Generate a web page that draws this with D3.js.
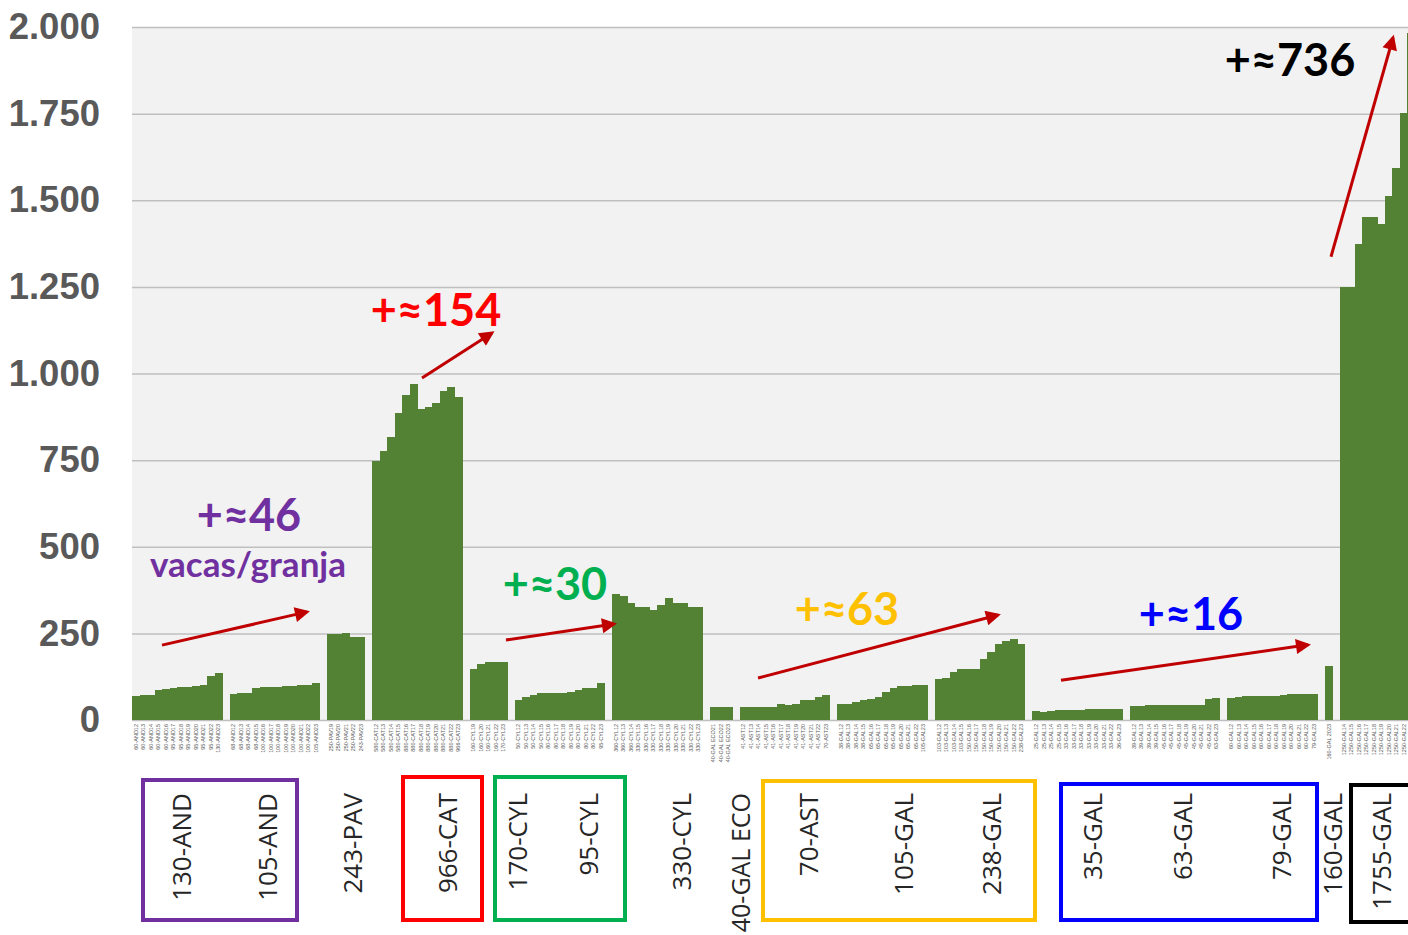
<!DOCTYPE html>
<html>
<head>
<meta charset="utf-8">
<script src="https://cdnjs.cloudflare.com/ajax/libs/d3/7.8.5/d3.min.js"></script>
<style>
    body { margin: 0; background: #ffffff; overflow: hidden; }
</style>
</head>
<body>
<script>
'use strict';

// values per farm group, one array of tick labels + one of values each
var and1Labels = ["60-AND12", "60-AND13", "60-AND14", "60-AND15", "60-AND16", "95-AND17", "95-AND18", "95-AND19", "95-AND20", "95-AND21", "95-AND22", "130-AND23"];
var and1Values = [70, 72, 72, 88, 90, 92, 94, 96, 97, 102, 127, 135];

var and2Labels = ["68-AND12", "68-AND13", "68-AND14", "68-AND15", "100-AND16", "100-AND17", "100-AND18", "100-AND19", "100-AND20", "100-AND21", "100-AND22", "105-AND23"];
var and2Values = [75, 78, 78, 93, 95, 95, 96, 97, 98, 102, 102, 107];

var pavLabels = ["250-PAV19", "250-PAV20", "250-PAV21", "250-PAV22", "243-PAV23"];
var pavValues = [247, 247, 250, 240, 240];

var catLabels = ["580-CAT12", "580-CAT13", "580-CAT14", "580-CAT15", "880-CAT16", "880-CAT17", "880-CAT18", "880-CAT19", "880-CAT20", "880-CAT21", "880-CAT22", "966-CAT23"];
var catValues = [748, 777, 816, 887, 937, 969, 897, 902, 915, 950, 962, 931];

var cyl1Labels = ["160-CYL19", "160-CYL20", "160-CYL21", "160-CYL22", "170-CYL23"];
var cyl1Values = [146, 162, 166, 166, 166];

var cyl2Labels = ["50-CYL12", "50-CYL13", "50-CYL14", "50-CYL15", "80-CYL16", "80-CYL17", "80-CYL18", "80-CYL19", "80-CYL20", "80-CYL21", "80-CYL22", "95-CYL23"];
var cyl2Values = [58, 66, 72, 77, 77, 77, 77, 82, 87, 91, 91, 106];

var cyl3Labels = ["360-CYL12", "360-CYL13", "360-CYL14", "330-CYL15", "330-CYL16", "330-CYL17", "330-CYL18", "330-CYL19", "330-CYL20", "330-CYL21", "330-CYL22", "330-CYL23"];
var cyl3Values = [364, 358, 337, 325, 325, 318, 332, 351, 337, 337, 325, 325];

var ecoLabels = ["40-GAL ECO21", "40-GAL ECO22", "40-GAL ECO23"];
var ecoValues = [37, 38, 38];

var astLabels = ["41-AST12", "41-AST13", "41-AST14", "41-AST15", "41-AST16", "41-AST17", "41-AST18", "41-AST19", "41-AST20", "41-AST21", "41-AST22", "70-AST23"];
var astValues = [37, 37, 37, 37, 37, 46, 44, 46, 57, 57, 66, 71];

var gal1Labels = ["38-GAL12", "38-GAL13", "38-GAL14", "38-GAL15", "65-GAL16", "65-GAL17", "65-GAL18", "65-GAL19", "65-GAL20", "65-GAL21", "65-GAL22", "105-GAL23"];
var gal1Values = [46, 46, 52, 58, 62, 67, 81, 91, 98, 98, 101, 101];

var gal2Labels = ["103-GAL12", "103-GAL13", "103-GAL14", "103-GAL15", "150-GAL16", "150-GAL17", "150-GAL18", "150-GAL19", "150-GAL20", "150-GAL21", "150-GAL22", "238-GAL23"];
var gal2Values = [117, 121, 138, 146, 146, 146, 176, 196, 220, 227, 234, 220];

var gal3Labels = ["25-GAL12", "25-GAL13", "25-GAL14", "25-GAL15", "33-GAL16", "33-GAL17", "33-GAL18", "33-GAL19", "33-GAL20", "33-GAL21", "33-GAL22", "36-GAL23"];
var gal3Values = [26, 24, 27, 30, 30, 30, 30, 32, 32, 32, 32, 32];

var gal4Labels = ["39-GAL12", "39-GAL13", "39-GAL14", "39-GAL15", "45-GAL16", "45-GAL17", "45-GAL18", "45-GAL19", "45-GAL20", "45-GAL21", "45-GAL22", "63-GAL23"];
var gal4Values = [39, 39, 42, 42, 42, 42, 42, 42, 42, 42, 60, 64];

var gal5Labels = ["60-GAL12", "60-GAL13", "60-GAL14", "60-GAL15", "60-GAL16", "60-GAL17", "60-GAL18", "60-GAL19", "60-GAL20", "60-GAL21", "60-GAL22", "79-GAL23"];
var gal5Values = [63, 67, 69, 69, 69, 69, 69, 72, 74, 74, 74, 74];

var gal6Labels = ["160-GAL 2023"];
var gal6Values = [156];

var gal7Labels = ["1250-GAL14", "1250-GAL15", "1250-GAL16", "1250-GAL17", "1250-GAL18", "1250-GAL19", "1250-GAL20", "1250-GAL21", "1250-GAL22", "1250-GAL23"];
var gal7Values = [1250, 1250, 1374, 1453, 1453, 1432, 1511, 1593, 1753, 1983];

var yTicks = [0, 250, 500, 750, 1000, 1250, 1500, 1750, 2000];
var yTickLabels = ["0", "250", "500", "750", "1.000", "1.250", "1.500", "1.750", "2.000"];

// group names printed below the chart, and the boxes around them
var groupNames = ["130-AND", "105-AND", "243-PAV", "966-CAT", "170-CYL", "95-CYL", "330-CYL", "40-GAL ECO", "70-AST", "105-GAL", "238-GAL", "35-GAL", "63-GAL", "79-GAL", "160-GAL", "1755-GAL"];
var groupNameX = [182, 268, 353, 448, 518, 589, 682, 741, 809, 904, 992, 1093, 1183, 1282, 1333, 1382];

var boxes = [
    {x0: 143, x1: 297, y0: 780, y1: 920, color: "#7030a0"},
    {x0: 403, x1: 482, y0: 777, y1: 920, color: "#ff0000"},
    {x0: 495, x1: 625, y0: 777, y1: 920, color: "#00b050"},
    {x0: 763, x1: 1035, y0: 781, y1: 920, color: "#ffc000"},
    {x0: 1061, x1: 1317, y0: 784, y1: 920, color: "#0000ff"},
    {x0: 1351, x1: 1420, y0: 785, y1: 922, color: "#000000"}
];

// growth annotations: text + arrow (x in px, y in chart units)
var notes = [
    {text: "+≈46", x: 249, y: 531, color: "#7030a0"},
    {text: "+≈154", x: 436, y: 326, color: "#ff0000"},
    {text: "+≈30", x: 555, y: 600, color: "#00b050"},
    {text: "+≈63", x: 847, y: 625, color: "#ffc000"},
    {text: "+≈16", x: 1191, y: 630, color: "#0000ff"},
    {text: "+≈736", x: 1290, y: 76, color: "#000000"}
];
var arrows = [
    {x1: 162, v1: 216, x2: 307, v2: 312},
    {x1: 422, v1: 987, x2: 492, v2: 1117},
    {x1: 506, v1: 231, x2: 614, v2: 277},
    {x1: 758, v1: 121, x2: 998, v2: 303},
    {x1: 1061, v1: 115, x2: 1308, v2: 217},
    {x1: 1331, v1: 1337, x2: 1393, v2: 1969}
];

var groups = [
    [and1Labels, and1Values], [and2Labels, and2Values], [pavLabels, pavValues],
    [catLabels, catValues], [cyl1Labels, cyl1Values], [cyl2Labels, cyl2Values],
    [cyl3Labels, cyl3Values], [ecoLabels, ecoValues], [astLabels, astValues],
    [gal1Labels, gal1Values], [gal2Labels, gal2Values], [gal3Labels, gal3Values],
    [gal4Labels, gal4Values], [gal5Labels, gal5Values], [gal6Labels, gal6Values],
    [gal7Labels, gal7Values]
];

function drawChart() {

    // flatten, with one empty category between groups
    var rows = [];
    groups.forEach(function (g, gi) {
        if (gi > 0) {
            rows.push({key: "gap" + gi, label: "", value: null});
        }
        g[0].forEach(function (label, i) {
            rows.push({key: label, label: label, value: g[1][i]});
        });
    });

    var width = 1408;
    var height = 935;
    var plotLeft = 132, plotTop = 27, plotBottom = 720, plotRight = 1415;

    var svg = d3.select("body")
        .append("svg")
        .attr("width", width)
        .attr("height", height);

    svg.append("defs")
        .append("marker")
        .attr("id", "head")
        .attr("viewBox", "0 0 10 10")
        .attr("refX", 8)
        .attr("refY", 5)
        .attr("markerWidth", 7)
        .attr("markerHeight", 5)
        .attr("orient", "auto")
        .append("path")
        .attr("d", "M0,0L10,5L0,10z")
        .attr("fill", "#c00000");

    var x = d3.scaleBand()
        .domain(rows.map(function (d) { return d.key; }))
        .range([plotLeft, plotRight])
        .padding(0);

    var y = d3.scaleLinear()
        .domain([0, 2000])
        .range([plotBottom, plotTop]);

    // plot background
    svg.append("rect")
        .attr("x", plotLeft)
        .attr("y", plotTop)
        .attr("width", plotRight - plotLeft)
        .attr("height", plotBottom - plotTop)
        .attr("fill", "#f2f2f2");

    // gridlines
    var grid = svg.append("g")
        .attr("transform", "translate(" + plotLeft + ",0)")
        .call(d3.axisLeft(y).tickValues(yTicks).tickSize(-(plotRight - plotLeft)).tickFormat(""));
    grid.select(".domain").remove();
    grid.selectAll("line").attr("stroke", "#bfbfbf").attr("stroke-width", 1.5);

    // y labels
    var yAxis = svg.append("g")
        .attr("transform", "translate(100,0)")
        .call(d3.axisLeft(y).tickValues(yTicks).tickSize(0).tickPadding(0)
            .tickFormat(function (d, i) { return yTickLabels[i]; }));
    yAxis.select(".domain").remove();
    yAxis.selectAll("text")
        .attr("font-family", "'Liberation Sans', Arial, sans-serif")
        .attr("font-size", "36.5px")
        .attr("font-weight", "bold")
        .attr("fill", "#595959");

    // bars
    svg.append("g")
        .attr("shape-rendering", "crispEdges")
        .selectAll("rect")
        .data(rows.filter(function (d) { return d.value !== null; }))
        .enter()
        .append("rect")
        .attr("x", function (d) { return x(d.key); })
        .attr("y", function (d) { return y(d.value); })
        .attr("width", x.bandwidth() + 0.5)
        .attr("height", function (d) { return y(0) - y(d.value); })
        .attr("fill", "#548235");

    // x tick labels (tiny, rotated)
    var labelByKey = {};
    rows.forEach(function (d) { labelByKey[d.key] = d.label; });
    var xAxis = svg.append("g")
        .attr("transform", "translate(0," + plotBottom + ")")
        .call(d3.axisBottom(x).tickSize(0).tickPadding(0)
            .tickFormat(function (k) { return labelByKey[k]; }));
    xAxis.select(".domain").remove();
    xAxis.selectAll("text")
        .attr("transform", "rotate(-90)")
        .attr("x", -4)
        .attr("y", 0)
        .attr("dy", "0.35em")
        .style("text-anchor", "end")
        .attr("font-family", "'Liberation Sans', Arial, sans-serif")
        .attr("font-size", "5.5px")
        .attr("fill", "#595959");

    // arrows
    svg.append("g")
        .selectAll("line")
        .data(arrows)
        .enter()
        .append("line")
        .attr("x1", function (d) { return d.x1; })
        .attr("y1", function (d) { return y(d.v1); })
        .attr("x2", function (d) { return d.x2; })
        .attr("y2", function (d) { return y(d.v2); })
        .attr("stroke", "#c00000")
        .attr("stroke-width", 3)
        .attr("marker-end", "url(#head)");

    // growth numbers
    svg.append("g")
        .selectAll("text")
        .data(notes)
        .enter()
        .append("text")
        .attr("x", function (d) { return d.x; })
        .attr("y", function (d) { return d.y; })
        .attr("text-anchor", "middle")
        .attr("font-family", "Lato, sans-serif")
        .attr("font-weight", "bold")
        .attr("font-size", "45px")
        .attr("fill", function (d) { return d.color; })
        .text(function (d) { return d.text; });

    svg.append("text")
        .attr("x", 248)
        .attr("y", 577)
        .attr("text-anchor", "middle")
        .attr("font-family", "Lato, sans-serif")
        .attr("font-weight", "bold")
        .attr("font-size", "35px")
        .attr("fill", "#7030a0")
        .text("vacas/granja");

    // boxes and group names under the chart
    svg.append("g")
        .selectAll("rect")
        .data(boxes)
        .enter()
        .append("rect")
        .attr("x", function (d) { return d.x0; })
        .attr("y", function (d) { return d.y0; })
        .attr("width", function (d) { return d.x1 - d.x0; })
        .attr("height", function (d) { return d.y1 - d.y0; })
        .attr("fill", "none")
        .attr("stroke", function (d) { return d.color; })
        .attr("stroke-width", 4);

    svg.append("g")
        .selectAll("text")
        .data(groupNames)
        .enter()
        .append("text")
        .attr("transform", function (d, i) { return "translate(" + groupNameX[i] + ",793) rotate(-90)"; })
        .attr("dy", "0.35em")
        .attr("text-anchor", "end")
        .attr("font-family", "'Open Sans', sans-serif")
        .attr("font-size", function (d) { return d.length > 9 ? "25px" : "26px"; })
        .attr("fill", "#262626")
        .text(function (d) { return d; });
}

drawChart();
</script>
</body>
</html>
